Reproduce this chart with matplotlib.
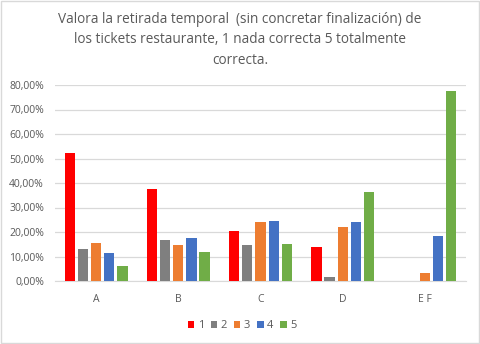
import matplotlib.pyplot as plt
import numpy as np
from matplotlib.patches import Rectangle

# datos
categorias = ['A', 'B', 'C', 'D', 'E F']
series = ['1', '2', '3', '4', '5']
v1 = [52.3, 37.6, 20.5, 14.0, 0.0]
v2 = [13.2, 16.8, 14.8, 1.8, 0.0]
v3 = [15.6, 14.8, 24.2, 22.1, 3.4]
v4 = [11.5, 17.7, 24.6, 24.2, 18.5]
v5 = [6.25, 12.0, 15.2, 36.4, 77.6]
valores = [v1, v2, v3, v4, v5]
colores = ['#FF0000', '#7F7F7F', '#ED7D31', '#4472C4', '#70AD47']

plt.rcParams['font.family'] = ['Open Sans', 'DejaVu Sans']
fig = plt.figure(figsize=(4.8, 3.44), dpi=100)
ax = fig.add_axes([55/480, 1-281/344, 411/480, 196/344])

x = np.arange(len(categorias))
ancho = 0.125
paso = 0.16
for i, (vals, col, nombre) in enumerate(zip(valores, colores, series)):
    ax.bar(x + (i-2)*paso, vals, ancho, color=col, label=nombre, zorder=3)

ax.set_xlim(-0.5, len(categorias)-0.5)
ax.set_ylim(0, 80)
ax.set_yticks(np.arange(0, 81, 10))
ax.set_yticklabels([f'{t:.2f}%'.replace('.', ',') for t in np.arange(0, 81, 10)])
ax.set_xticks(x)
ax.set_xticklabels(categorias)
ax.grid(axis='y', color='#d9d9d9', linewidth=0.9, zorder=0)
for s in ['top', 'right', 'left']:
    ax.spines[s].set_visible(False)
ax.spines['bottom'].set_color('#d9d9d9')
ax.tick_params(axis='both', length=0, colors='#595959', labelsize=7.5)
ax.tick_params(axis='y', pad=8)
ax.tick_params(axis='x', pad=9)

fig.text(0.5, 0.884, 'Valora la retirada temporal  (sin concretar finalización) de\n'
         'los tickets restaurante, 1 nada correcta 5 totalmente\ncorrecta.',
         ha='center', va='center', fontsize=9.8, color='#595959', linespacing=1.5)

ax.legend(loc='upper center', bbox_to_anchor=(0.455, -0.15), ncol=5, frameon=False,
          fontsize=8, labelcolor='#595959', handlelength=0.6, handleheight=0.6,
          handletextpad=0.3, columnspacing=0.6)

fig.patches.append(Rectangle((0.002, 0.003), 0.996, 0.994, transform=fig.transFigure,
                             fill=False, edgecolor='#d9d9d9', linewidth=1))
fig.savefig('out.png', dpi=100)
